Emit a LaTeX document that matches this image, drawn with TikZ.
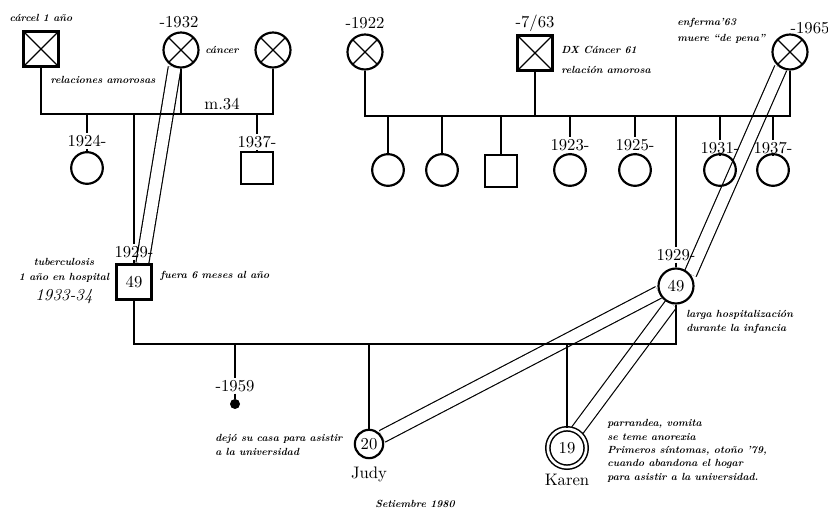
\documentclass[tikz,border=0pt]{standalone}
\usetikzlibrary{positioning,backgrounds}
\begin{document}
\begin{tikzpicture}[
    x=0.6pt, y=-0.6pt,
    person/.style={draw, line width=1.3pt, inner sep=0pt},
    female/.style={person, circle, minimum size=19pt},
    male/.style={person, rectangle, minimum size=19pt},
    dead/.style={minimum size=21pt, path picture={\draw[line width=0.7pt] (path picture bounding box.north west) -- (path picture bounding box.south east) (path picture bounding box.north east) -- (path picture bounding box.south west);}},
    year/.style={inner sep=1pt},
    note/.style={font=\fontsize{6.2}{8}\selectfont\bfseries\itshape, align=left, inner sep=0pt},
    link/.style={line width=1pt},
    band/.style={line width=0.7pt, double, double distance=7pt}
]
    \useasboundingbox (0,0) rectangle (828,517);

    % paternal grandparents
    \node[male, dead] (pgf) at (41,49) {};
    \node[female, dead] (pgm) at (181,50) {};
    \node[female, dead] (pgo) at (273,50) {};
    \node[year] (ypgm) at (179,22) {-1932};
    \node[note] (ncarcel) at (41,18) {cárcel 1 año};
    \node[note] (nrelac) at (103,80) {relaciones amorosas};
    \node[note, anchor=west] (ncancer) at (205,50) {cáncer};
    \node (m34) at (222,104) {m.34};
    \coordinate (pline) at (150,114);

    \node[female] (aunt24) at (87,168) {};
    \node[year] (y24) at (87,141) {1924-};
    \node[male] (uncle37) at (257,168) {};
    \node[year] (y37) at (257,142) {1937-};

    % father
    \node[male, minimum size=21pt] (father) at (134,282) {49};
    \node[year] (yfather) at (134,252) {1929-};
    \node[note, align=center] (ntb) at (64,270) {tuberculosis\\[1pt]1 año en hospital};
    \node[inner sep=0pt] (ntbyears) at (64,297) {\itshape 1933-34};
    \node[note, anchor=west] (nfuera) at (160,276) {fuera 6 meses al año};

    % maternal grandparents
    \node[female, dead] (mgm) at (365,52) {};
    \node[male, dead] (mgf) at (535,53) {};
    \node[female, dead] (mgo) at (790,52) {};
    \node[year] (ymgm) at (365,23) {-1922};
    \node[year] (ymgf) at (535,23) {-7/63};
    \node[year] (ymgo) at (810,28) {-1965};
    \node[note, anchor=west] (ndx) at (561,60) {DX Cáncer 61\\[4pt]relación amorosa};
    \node[note, anchor=west] (nenferma) at (677,31) {enferma'63\\[2pt]muere ``de pena''};
    \coordinate (mline) at (500,116);

    \node[female] (c1) at (388,170) {};
    \node[female] (c2) at (442,170) {};
    \node[male] (c3) at (501,171) {};
    \node[female] (c23) at (570,170) {};
    \node[year] (y23) at (570,145) {1923-};
    \node[female] (c25) at (635,170) {};
    \node[year] (y25) at (635,145) {1925-};
    \node[female] (c31) at (720,170) {};
    \node[year] (y31) at (720,148) {1931-};
    \node[female] (c37) at (773,170) {};
    \node[year] (y37m) at (773,148) {1937-};

    % mother
    \node[female, minimum size=21pt] (mother) at (676,286) {49};
    \node[year] (ymother) at (676,255) {1929-};
    \node[note, anchor=west] (nlarga) at (686,322) {larga hospitalización\\durante la infancia};
    \coordinate (fline) at (400,344);

    % children
    \node[circle, fill, inner sep=0pt, minimum size=6pt] (d59) at (235,404) {};
    \node[year] (y59) at (235,386) {-1959};
    \node[female, minimum size=17pt] (judy) at (369,444) {20};
    \node[below=1pt of judy] (njudy) {Judy};
    \node[female, line width=0.9pt, double, double distance=1.6pt, minimum size=23pt] (karen) at (567,448) {19};
    \node[below=0pt of karen] (nkaren) {Karen};
    \node[note, anchor=west] (njudynote) at (215,445) {dejó su casa para asistir\\a la universidad};
    \node[note, anchor=west] (nkarennote) at (607,451) {parrandea, vomita\\se teme anorexia\\Primeros síntomas, otoño '79,\\cuando abandona el hogar\\para asistir a la universidad.};
    \node[note] (nfecha) at (415,504) {Setiembre 1980};

    % emotional bands
    \begin{scope}[on background layer]
        \draw[band] (pgm.250) -- ([xshift=5pt]father.north);
        \draw[band] (mother.40) -- (mgo.240);
        \draw[band] (mother.200) -- (judy.30);
        \draw[band] (mother.255) -- (karen.60);
    \end{scope}

    % family lines
    \draw[link] (pgf) -- (pgf |- pline) -- (pgo |- pline) -- (pgo);
    \draw[link] (pgm) -- (pgm |- pline);
    \draw[link] (aunt24 |- pline) -- (y24) -- (aunt24);
    \draw[link] (uncle37 |- pline) -- (y37) -- (uncle37);
    \draw[link] (father |- pline) -- (yfather) -- (father);

    \draw[link] (mgm) -- (mgm |- mline) -- (mgo |- mline) -- (mgo);
    \draw[link] (mgf) -- (mgf |- mline);
    \draw[link] (c1 |- mline) -- (c1);
    \draw[link] (c2 |- mline) -- (c2);
    \draw[link] (c3 |- mline) -- (c3);
    \draw[link] (c23 |- mline) -- (y23) -- (c23);
    \draw[link] (c25 |- mline) -- (y25) -- (c25);
    \draw[link] (c31 |- mline) -- (y31) -- (c31);
    \draw[link] (c37 |- mline) -- (y37m) -- (c37);
    \draw[link] (mother |- mline) -- (ymother) -- (mother);

    \draw[link] (father) -- (father |- fline) -- (mother |- fline) -- (mother);
    \draw[link] (d59 |- fline) -- (y59) -- (d59);
    \draw[link] (judy |- fline) -- (judy);
    \draw[link] (karen |- fline) -- (karen);
\end{tikzpicture}
\end{document}
